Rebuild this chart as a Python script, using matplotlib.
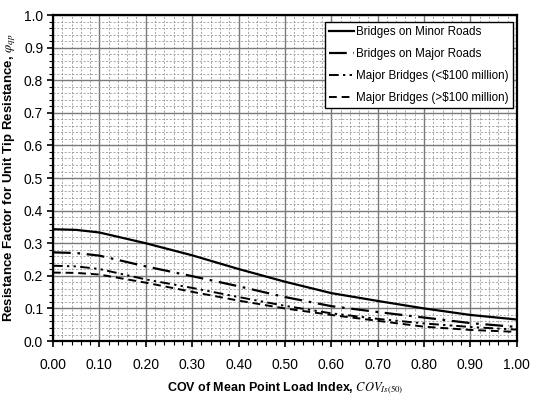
import numpy as np
import matplotlib
matplotlib.use("Agg")
import matplotlib.pyplot as plt
from matplotlib.ticker import MultipleLocator, FormatStrFormatter

plt.rcParams['font.family'] = ['Liberation Sans', 'DejaVu Sans']
plt.rcParams['mathtext.fontset'] = 'stix'

# data
cov = [0.0, 0.05, 0.1, 0.2, 0.3, 0.4, 0.5, 0.6, 0.7, 0.8, 0.9, 1.0]
minor_roads = [0.343, 0.341, 0.333, 0.300, 0.263, 0.221, 0.182, 0.147, 0.123, 0.100, 0.080, 0.066]
major_roads = [0.272, 0.270, 0.262, 0.229, 0.199, 0.168, 0.135, 0.107, 0.089, 0.072, 0.055, 0.043]
major_lt100 = [0.231, 0.229, 0.221, 0.189, 0.163, 0.135, 0.108, 0.085, 0.068, 0.054, 0.043, 0.035]
major_gt100 = [0.210, 0.209, 0.204, 0.179, 0.151, 0.124, 0.100, 0.080, 0.062, 0.044, 0.034, 0.028]

labels = ['Bridges on Minor Roads', 'Bridges on Major Roads',
          'Major Bridges (<$100 million)', 'Major Bridges (>$100 million)']

fig = plt.figure(figsize=(5.35, 3.97), dpi=100)
ax = fig.add_axes([0.099, 0.141, 0.867, 0.821])

ax.plot(cov, minor_roads, color='black', lw=1.6, linestyle='-', label=labels[0])
ax.plot(cov, major_roads, color='black', lw=1.6, linestyle=(0, (8, 3, 1.2, 3)), label=labels[1])
ax.plot(cov, major_lt100, color='black', lw=1.4, linestyle=(0, (5, 2.2, 1.2, 2.2, 1.2, 2.2)), label=labels[2])
ax.plot(cov, major_gt100, color='black', lw=1.4, linestyle=(0, (4, 2.5)), label=labels[3])

ax.set_xlim(0, 1)
ax.set_ylim(0, 1)
ax.xaxis.set_major_locator(MultipleLocator(0.1))
ax.xaxis.set_minor_locator(MultipleLocator(0.02))
ax.yaxis.set_major_locator(MultipleLocator(0.1))
ax.yaxis.set_minor_locator(MultipleLocator(0.02))
ax.xaxis.set_major_formatter(FormatStrFormatter('%.2f'))
ax.yaxis.set_major_formatter(FormatStrFormatter('%.1f'))

ax.grid(which='major', color='#7a7a7a', lw=1.0, linestyle='-')
ax.grid(which='minor', color='#9a9a9a', lw=0.6, linestyle=(0, (2.5, 2)))
ax.set_axisbelow(True)

for s in ax.spines.values():
    s.set_linewidth(1.6)
ax.tick_params(which='major', direction='out', length=4, width=1.2, labelsize=10, pad=8)
ax.tick_params(which='minor', direction='out', length=3, width=0.8)
ax.tick_params(axis='y', which='major', pad=3)

ax.set_xlabel(r'COV of Mean Point Load Index, $\mathit{COV}_{\mathit{Is(50)}}$',
              fontsize=9, fontweight='bold', labelpad=6)
ax.set_ylabel(r'Resistance Factor for Unit Tip Resistance, $\varphi_{qp}$',
              fontsize=9.5, fontweight='bold', labelpad=4)

leg = ax.legend(loc='upper right', fontsize=8.4, handlelength=2.1, handletextpad=0.2,
                borderpad=0.35, labelspacing=0.85, fancybox=False, framealpha=1,
                edgecolor='black', borderaxespad=0, bbox_to_anchor=(0.991, 0.979))
leg.get_frame().set_linewidth(1.0)

fig.savefig('out.png', dpi=100)
